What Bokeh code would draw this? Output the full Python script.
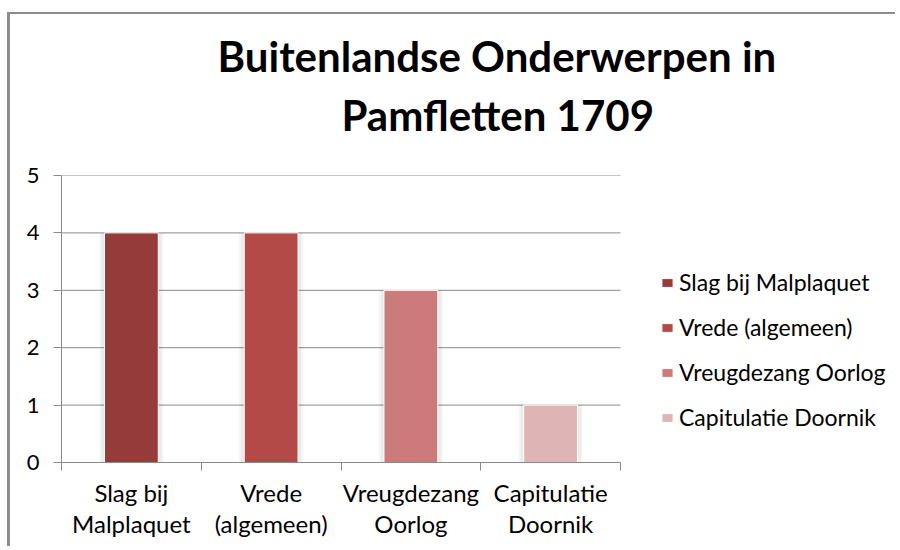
from bokeh.plotting import figure
from bokeh.models import (Range1d, FixedTicker, Legend, LegendItem, Title, ColumnDataSource)
from bokeh.embed import file_html
from bokeh.resources import INLINE

# ---- data ----
series = ["Slag bij Malplaquet", "Vrede (algemeen)", "Vreugdezang Oorlog", "Capitulatie Doornik"]
tick_labels = ["Slag bij\nMalplaquet", "Vrede\n(algemeen)", "Vreugdezang\nOorlog", "Capitulatie\nDoornik"]
values = [4, 4, 3, 1]
colors = ["#953B3A", "#B44A48", "#CC7B7B", "#DFB4B4"]
y_ticks = [0, 1, 2, 3, 4, 5]
title_lines = ["Buitenlandse Onderwerpen in", "Pamfletten 1709"]

FONT = "Lato"
GRID = "#8a8a8a"

# ---- layout numbers (pixels) ----
PLOT_W, PLOT_H = 888, 534
FRAME_L, FRAME_T, FRAME_B = 51, 161, 86
CAT_AREA_W = 559          # width of the category axis inside the frame
n = len(series)
x_end = n * (PLOT_W - FRAME_L) / CAT_AREA_W

positions = [i + 0.5 for i in range(n)]
src = ColumnDataSource(dict(x=positions, top=values, color=colors, name=series))

p = figure(width=PLOT_W, height=PLOT_H, output_backend="svg", toolbar_location=None,
           x_range=Range1d(0, x_end), y_range=Range1d(0, 5),
           min_border_left=FRAME_L, min_border_right=0, min_border_top=FRAME_T,
           min_border_bottom=FRAME_B)
p.title = None
p.outline_line_color = None
p.background_fill_color = "white"
p.border_fill_color = "white"
p.margin = (12, 0, 0, 7)
p.styles = {"border-top": "2px solid #8c8c8c", "border-left": "3px solid #8c8c8c"}

# horizontal gridlines, only across the category area
p.xgrid.grid_line_color = None
p.ygrid.grid_line_color = None
p.segment(x0=[0] * len(y_ticks), x1=[n] * len(y_ticks), y0=y_ticks, y1=y_ticks,
          line_color=GRID, line_width=1)

# shadows
p.vbar(x="x", top="top", width=0.46, bottom=0, source=src, fill_color="black", fill_alpha=0.035, line_color=None)
p.vbar(x="x", top="top", width=0.43, bottom=0, source=src, fill_color="black", fill_alpha=0.045, line_color=None)
bars = p.vbar(x="x", top="top", width=0.385, bottom=0, source=src, fill_color="color",
              line_color="white", line_width=1)

# y axis
p.yaxis.ticker = FixedTicker(ticks=y_ticks)
p.yaxis.axis_line_color = GRID
p.yaxis.major_tick_line_color = GRID
p.yaxis.major_tick_out = 8
p.yaxis.major_tick_in = 0
p.yaxis.minor_tick_line_color = None
p.yaxis.major_label_text_font = FONT
p.yaxis.major_label_text_font_size = "22px"
p.yaxis.major_label_text_color = "black"
p.yaxis.major_label_standoff = 14

# x axis
p.xaxis.ticker = FixedTicker(ticks=positions, minor_ticks=list(range(n + 1)))
p.xaxis.bounds = (0, n)
p.xaxis.major_label_overrides = {pos: lab for pos, lab in zip(positions, tick_labels)}
p.xaxis.axis_line_color = GRID
p.xaxis.major_tick_line_color = None
p.xaxis.major_tick_out = 0
p.xaxis.major_tick_in = 0
p.xaxis.minor_tick_line_color = GRID
p.xaxis.minor_tick_out = 8
p.xaxis.minor_tick_in = 0
p.xaxis.major_label_text_font = FONT
p.xaxis.major_label_text_font_size = "24px"
p.xaxis.major_label_text_line_height = 1.1
p.xaxis.major_label_text_color = "black"
p.xaxis.major_label_standoff = 7

# legend
items = [LegendItem(label=name, renderers=[bars], index=i) for i, name in enumerate(series)]
legend = Legend(items=items, location=(599, 31), orientation="vertical",
                glyph_width=14, glyph_height=11, label_standoff=5,
                label_text_font=FONT, label_text_font_size="23px", label_text_color="black",
                label_height=28, spacing=17, padding=0, margin=0,
                border_line_color=None, background_fill_alpha=0)
p.add_layout(legend, "center")

# spacer between plot area and title
p.add_layout(Title(text=" ", text_font_size="10px", standoff=23), "above")
# title (two centred lines)
for txt, off, so in zip(reversed(title_lines), [280, 156], [0, 13]):
    p.add_layout(Title(text=txt, align="left", offset=off, standoff=so,
                       text_font=FONT, text_font_style="bold", text_font_size="42px",
                       text_color="black"), "above")

open("out.html", "w").write(file_html(p, INLINE))
